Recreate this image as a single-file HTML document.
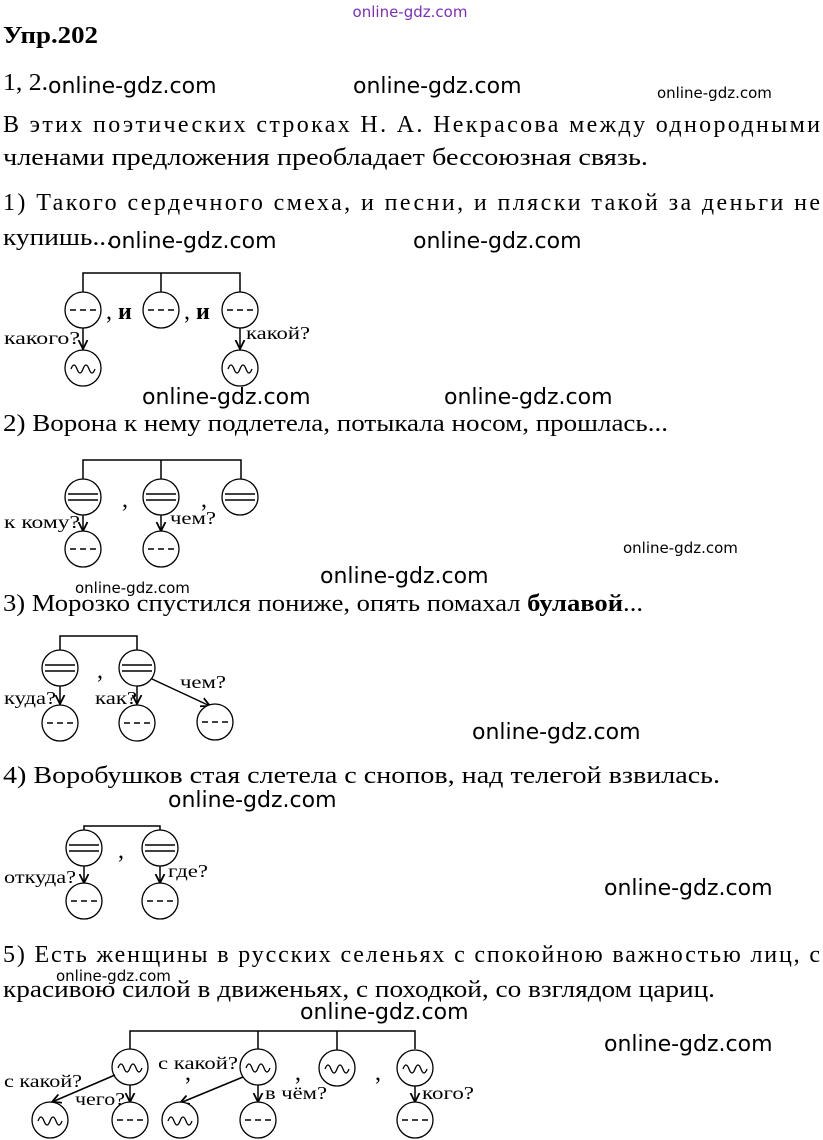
<!DOCTYPE html>
<html><head><meta charset="utf-8"><style>
html,body{margin:0;padding:0;background:#fff;}
svg{display:block;}
.t{font-family:"Liberation Serif",serif;font-size:24px;fill:#000;}
.s{font-family:"Liberation Serif",serif;font-size:18px;fill:#000;}
.w{font-family:"DejaVu Sans","Liberation Sans",sans-serif;font-size:22px;fill:#000;}
.ws{font-family:"DejaVu Sans","Liberation Sans",sans-serif;font-size:15px;fill:#000;}
.c{fill:#fff;stroke:#000;stroke-width:1.3;}
.l{stroke:#000;stroke-width:1.5;fill:none;}
</style></head><body>
<svg width="823" height="1140" xmlns="http://www.w3.org/2000/svg">
<defs>
<marker id="a" markerWidth="8" markerHeight="8" refX="6" refY="4" orient="auto"><path d="M0,1 L6,4 L0,7" fill="none" stroke="#000" stroke-width="1.2"/></marker>
<g id="dash"><circle class="c" r="18"/><path d="M-13,0 h6 M-3,0 h6 M7,0 h6" stroke="#000" stroke-width="1.5"/></g>
<g id="eq"><circle class="c" r="18"/><path d="M-15,-3 h30 M-15,3 h30" stroke="#000" stroke-width="1.5"/></g>
<g id="wv"><circle class="c" r="18"/><path d="M-12,-1 q3,-8 6,0 t6,0 t6,0 t6,0" transform="translate(0,2)" stroke="#000" stroke-width="1.3" fill="none"/></g>
</defs>
<text x="410" y="17" text-anchor="middle" class="ws" style="fill:#7b2fbe">online-gdz.com</text>
<text x="3" y="43" class="t" font-weight="bold" textLength="95" lengthAdjust="spacingAndGlyphs">Упр.202</text>
<text x="3" y="90" class="t" textLength="45" lengthAdjust="spacingAndGlyphs">1, 2.</text>
<text x="3" y="132" class="t" textLength="817" lengthAdjust="spacing">В этих поэтических строках Н. А. Некрасова между однородными</text>
<text x="3" y="165" class="t" textLength="645" lengthAdjust="spacingAndGlyphs">членами предложения преобладает бессоюзная связь.</text>
<text x="3" y="210" class="t" textLength="817" lengthAdjust="spacing">1) Такого сердечного смеха, и песни, и пляски такой за деньги не</text>
<text x="3" y="245" class="t" textLength="110" lengthAdjust="spacingAndGlyphs">купишь...</text>
<!-- diagram 1 -->
<path class="l" d="M83,292 V273 H240 V292 M161,273 V292"/>
<use href="#dash" x="83" y="310"/><use href="#dash" x="161" y="310"/><use href="#dash" x="240" y="310"/>
<text x="106" y="319" class="t">, <tspan font-weight="bold">и</tspan></text>
<text x="184" y="319" class="t">, <tspan font-weight="bold">и</tspan></text>
<path class="l" d="M83,328 V349" marker-end="url(#a)"/><path class="l" d="M240,328 V349" marker-end="url(#a)"/>
<use href="#wv" x="83" y="368"/><use href="#wv" x="240" y="368"/>
<text x="4" y="344" class="s" textLength="76" lengthAdjust="spacingAndGlyphs">какого?</text><text x="246" y="339" class="s" textLength="64" lengthAdjust="spacingAndGlyphs">какой?</text>
<text x="3" y="431" class="t" textLength="665" lengthAdjust="spacingAndGlyphs">2) Ворона к нему подлетела, потыкала носом, прошлась...</text>
<!-- diagram 2 -->
<path class="l" d="M83,479 V460 H241 V479 M161,460 V479"/>
<use href="#eq" x="83" y="497"/><use href="#eq" x="161" y="497"/><use href="#eq" x="240" y="497"/>
<text x="122" y="507" class="t">,</text><text x="201" y="507" class="t">,</text>
<path class="l" d="M83,515 V531" marker-end="url(#a)"/><path class="l" d="M161,515 V531" marker-end="url(#a)"/>
<use href="#dash" x="83" y="549"/><use href="#dash" x="161" y="549"/>
<text x="4" y="528" class="s" textLength="76" lengthAdjust="spacingAndGlyphs">к кому?</text><text x="170" y="524" class="s" textLength="46" lengthAdjust="spacingAndGlyphs">чем?</text>
<text x="3" y="611" class="t" textLength="640" lengthAdjust="spacingAndGlyphs">3) Морозко спустился пониже, опять помахал <tspan font-weight="bold">булавой</tspan>...</text>
<!-- diagram 3 -->
<path class="l" d="M60,650 V636 H137 V650"/>
<use href="#eq" x="60" y="668"/><use href="#eq" x="137" y="668"/>
<text x="97" y="678" class="t">,</text>
<path class="l" d="M60,686 V704" marker-end="url(#a)"/><path class="l" d="M137,686 V704" marker-end="url(#a)"/>
<path class="l" d="M152,679 L210,706" marker-end="url(#a)"/>
<use href="#dash" x="60" y="723"/><use href="#dash" x="137" y="723"/><use href="#dash" x="215" y="722"/>
<text x="4" y="704" class="s" textLength="52" lengthAdjust="spacingAndGlyphs">куда?</text><text x="95" y="704" class="s" textLength="42" lengthAdjust="spacingAndGlyphs">как?</text><text x="180" y="688" class="s" textLength="46" lengthAdjust="spacingAndGlyphs">чем?</text>
<text x="3" y="783" class="t" textLength="717" lengthAdjust="spacingAndGlyphs">4) Воробушков стая слетела с снопов, над телегой взвилась.</text>
<!-- diagram 4 -->
<path class="l" d="M84,832 V826 H160 V832"/>
<use href="#eq" x="84" y="848"/><use href="#eq" x="160" y="848"/>
<text x="118" y="858" class="t">,</text>
<path class="l" d="M84,866 V883" marker-end="url(#a)"/><path class="l" d="M160,866 V883" marker-end="url(#a)"/>
<use href="#dash" x="84" y="901"/><use href="#dash" x="160" y="901"/>
<text x="4" y="883" class="s" textLength="72" lengthAdjust="spacingAndGlyphs">откуда?</text><text x="168" y="877" class="s" textLength="40" lengthAdjust="spacingAndGlyphs">где?</text>
<text x="3" y="962" class="t" textLength="817" lengthAdjust="spacing">5) Есть женщины в русских селеньях с спокойною важностью лиц, с</text>
<text x="3" y="997" class="t" textLength="712" lengthAdjust="spacingAndGlyphs">красивою силой в движеньях, с походкой, со взглядом цариц.</text>
<!-- diagram 5 -->
<path class="l" d="M130,1049 V1031 H415 V1049 M258,1031 V1049 M337,1031 V1050"/>
<use href="#wv" x="130" y="1067"/><use href="#wv" x="258" y="1067"/><use href="#wv" x="337" y="1068"/><use href="#wv" x="415" y="1068"/>
<text x="185" y="1080" class="t">,</text><text x="295" y="1080" class="t">,</text><text x="375" y="1080" class="t">,</text>
<path class="l" d="M115,1075 L52,1102" marker-end="url(#a)"/>
<path class="l" d="M243,1077 L180,1103" marker-end="url(#a)"/>
<path class="l" d="M130,1085 V1102" marker-end="url(#a)"/><path class="l" d="M258,1085 V1102" marker-end="url(#a)"/><path class="l" d="M415,1086 V1102" marker-end="url(#a)"/>
<use href="#wv" x="50" y="1120"/><use href="#dash" x="130" y="1120"/><use href="#wv" x="180" y="1120"/><use href="#dash" x="258" y="1120"/><use href="#dash" x="415" y="1120"/>
<text x="4" y="1087" class="s" textLength="78" lengthAdjust="spacingAndGlyphs">с какой?</text><text x="158" y="1069" class="s" textLength="80" lengthAdjust="spacingAndGlyphs">с какой?</text>
<text x="75" y="1105" class="s" textLength="50" lengthAdjust="spacingAndGlyphs">чего?</text><text x="265" y="1099" class="s" textLength="62" lengthAdjust="spacingAndGlyphs">в чём?</text><text x="422" y="1099" class="s" textLength="52" lengthAdjust="spacingAndGlyphs">кого?</text>
<!-- watermarks -->
<text x="48" y="93" class="w">online-gdz.com</text>
<text x="353" y="93" class="w">online-gdz.com</text>
<text x="657" y="98" class="ws">online-gdz.com</text>
<text x="108" y="248" class="w">online-gdz.com</text>
<text x="413" y="248" class="w">online-gdz.com</text>
<text x="142" y="404" class="w">online-gdz.com</text>
<text x="444" y="404" class="w">online-gdz.com</text>
<text x="623" y="553" class="ws">online-gdz.com</text>
<text x="320" y="583" class="w">online-gdz.com</text>
<text x="75" y="593" class="ws">online-gdz.com</text>
<text x="472" y="739" class="w">online-gdz.com</text>
<text x="168" y="807" class="w">online-gdz.com</text>
<text x="604" y="895" class="w">online-gdz.com</text>
<text x="56" y="981" class="ws">online-gdz.com</text>
<text x="300" y="1019" class="w">online-gdz.com</text>
<text x="604" y="1051" class="w">online-gdz.com</text>
</svg>
</body></html>
